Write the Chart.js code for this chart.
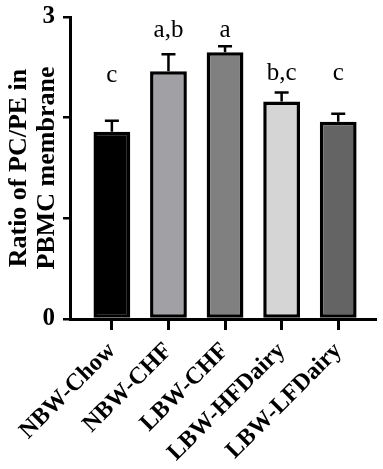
<!DOCTYPE html>
<html>
<head>
<meta charset="utf-8">
<script src="https://cdn.jsdelivr.net/npm/chart.js@4/dist/chart.umd.min.js"></script>
<style>
  html, body { margin: 0; padding: 0; background: #fff; }
  #wrap { width: 383px; height: 469px; }
</style>
</head>
<body>
<div id="wrap"><canvas id="chart"></canvas></div>
<script>
// data
const groups = ['NBW-Chow', 'NBW-CHF', 'LBW-CHF', 'LBW-HFDairy', 'LBW-LFDairy'];
const ratio = [1.86, 2.46, 2.65, 2.16, 1.96];
const sem = [0.11, 0.17, 0.06, 0.09, 0.08];
const letters = ['c', 'a,b', 'a', 'b,c', 'c'];
const letterLevel = [2.35, 2.8, 2.8, 2.37, 2.37];
const barColors = ['#000000', '#a1a1a5', '#808080', '#d5d5d5', '#646464'];
const yTicks = [0, 1, 2, 3];

const serif = "'Liberation Serif', 'Times New Roman', serif";

// error bars + significance letters
const extras = {
    id: 'extras',
    afterDatasetsDraw(chart) {
        const ctx = chart.ctx;
        const x = chart.scales.x, y = chart.scales.y;
        ctx.save();
        ctx.strokeStyle = '#000';
        ctx.lineWidth = 2.5;
        ratio.forEach((v, i) => {
            const px = x.getPixelForValue(i);
            const top = y.getPixelForValue(v + sem[i]);
            ctx.beginPath();
            ctx.moveTo(px, y.getPixelForValue(v));
            ctx.lineTo(px, top);
            ctx.moveTo(px - 7, top);
            ctx.lineTo(px + 7, top);
            ctx.stroke();
        });
        ctx.fillStyle = '#000';
        ctx.font = '25px ' + serif;
        ctx.textAlign = 'center';
        ctx.textBaseline = 'alphabetic';
        letters.forEach((t, i) => {
            ctx.fillText(t, x.getPixelForValue(i), y.getPixelForValue(letterLevel[i]));
        });
        ctx.restore();
    }
};

new Chart(document.getElementById('chart'), {
    type: 'bar',
    data: {
        datasets: [{
            data: ratio.map((v, i) => ({ x: i, y: v })),
            backgroundColor: barColors,
            borderColor: '#000',
            borderWidth: 3.5,
            borderSkipped: false,
            barPercentage: 0.65,
            categoryPercentage: 1
        }]
    },
    options: {
        responsive: true,
        maintainAspectRatio: false,
        animation: false,
        layout: { padding: { top: 17, right: 8 } },
        plugins: { legend: { display: false }, tooltip: { enabled: false } },
        scales: {
            x: {
                type: 'linear',
                offset: false,
                min: -0.74,
                max: 4.65,
                afterBuildTicks: s => { s.ticks = groups.map((g, i) => ({ value: i })); },
                afterFit: s => { s.height = 150; },
                border: { color: '#000', width: 3 },
                grid: { offset: false, drawOnChartArea: false, color: '#000', lineWidth: 3, tickLength: 11 },
                ticks: {
                    callback: v => groups[v],
                    minRotation: 45,
                    maxRotation: 45,
                    color: '#000',
                    padding: 7,
                    font: { family: serif, size: 24, weight: 'bold' }
                }
            },
            y: {
                min: 0,
                max: 3,
                afterBuildTicks: s => { s.ticks = yTicks.map(v => ({ value: v })); },
                afterFit: s => { s.width = 70; },
                border: { color: '#000', width: 3 },
                grid: { drawOnChartArea: false, color: '#000', lineWidth: 2.5, tickLength: 7 },
                ticks: {
                    callback: v => (v === 0 || v === 3) ? String(v) : '',
                    color: '#000',
                    padding: 8,
                    font: { family: serif, size: 25, weight: 'bold', lineHeight: 0.6 }
                },
                title: {
                    display: true,
                    text: ['Ratio of PC/PE in', 'PBMC membrane'],
                    color: '#000',
                    padding: { top: 6, bottom: 0 },
                    font: { family: serif, size: 26, weight: 'bold', lineHeight: 1.05 }
                }
            }
        }
    },
    plugins: [extras]
});
</script>
</body>
</html>
